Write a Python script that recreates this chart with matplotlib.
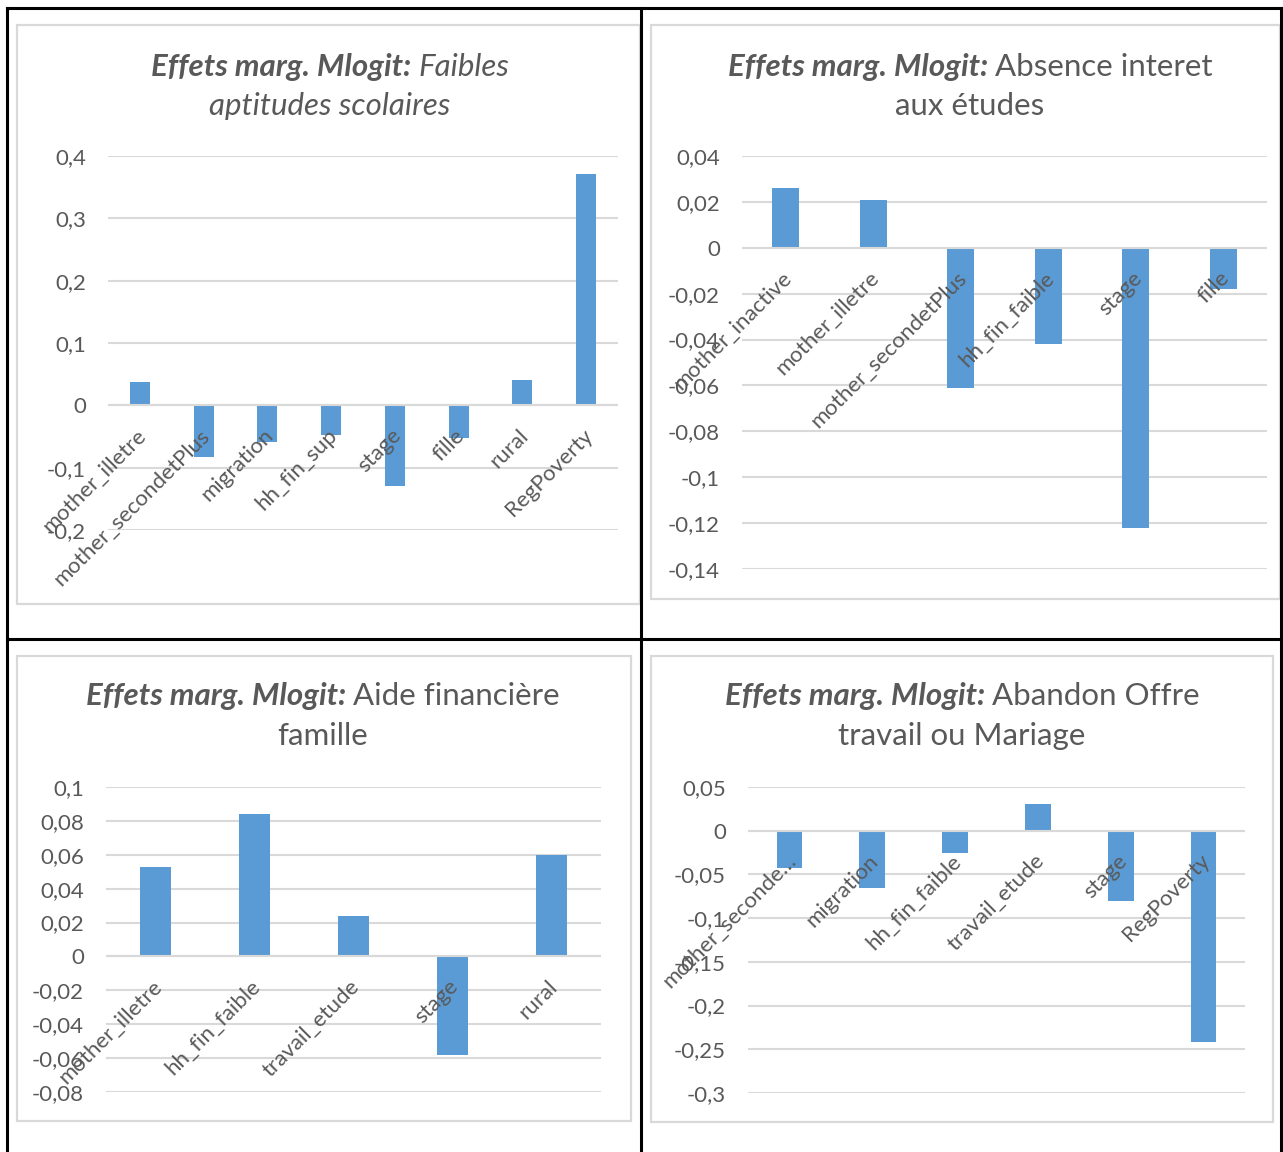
import matplotlib
matplotlib.use("Agg")
import matplotlib.pyplot as plt
import matplotlib.transforms as mtransforms
from matplotlib.lines import Line2D
from matplotlib.patches import Rectangle

plt.rcParams['font.family'] = ['Lato', 'DejaVu Sans']

W, H = 1283, 1152
BLUE = '#5B9BD5'
GRID = '#D9D9D9'
TXT = '#595959'

# chart 1 : Faibles aptitudes scolaires
cats1 = ['mother_illetre', 'mother_secondetPlus', 'migration', 'hh_fin_sup',
         'stage', 'fille', 'rural', 'RegPoverty']
vals1 = [0.038, -0.083, -0.059, -0.048, -0.129, -0.052, 0.041, 0.371]
ticks1 = [0.4, 0.3, 0.2, 0.1, 0, -0.1, -0.2]

# chart 2 : Absence interet aux etudes
cats2 = ['mother_inactive', 'mother_illetre', 'mother_secondetPlus',
         'hh_fin_faible', 'stage', 'fille']
vals2 = [0.026, 0.021, -0.061, -0.042, -0.122, -0.018]
ticks2 = [0.04, 0.02, 0, -0.02, -0.04, -0.06, -0.08, -0.1, -0.12, -0.14]

# chart 3 : Aide financiere famille
cats3 = ['mother_illetre', 'hh_fin_faible', 'travail_etude', 'stage', 'rural']
vals3 = [0.053, 0.084, 0.024, -0.058, 0.060]
ticks3 = [0.1, 0.08, 0.06, 0.04, 0.02, 0, -0.02, -0.04, -0.06, -0.08]

# chart 4 : Abandon Offre travail ou Mariage
cats4 = ['mother_seconde\u2026', 'migration', 'hh_fin_faible', 'travail_etude',
         'stage', 'RegPoverty']
vals4 = [-0.043, -0.065, -0.025, 0.030, -0.080, -0.242]
ticks4 = [0.05, 0, -0.05, -0.1, -0.15, -0.2, -0.25, -0.3]

fig = plt.figure(figsize=(W / 100, H / 100), dpi=100)


def box(l, t, r, b):
    return [l / W, 1 - b / H, (r - l) / W, (b - t) / H]


def fmt(v):
    s = ('%.2f' % v).rstrip('0').rstrip('.')
    if s in ('-0', ''):
        s = '0'
    return s.replace('.', ',')


def frame(l, t, r, b):
    fig.patches.append(Rectangle((l / W, 1 - b / H), (r - l) / W, (b - t) / H,
                                 transform=fig.transFigure, fill=False,
                                 edgecolor=GRID, lw=1.6))


def title(cx, y1, y2, bold, rest1, rest2, italic):
    r = fig.canvas.get_renderer()
    st = 'italic' if italic else 'normal'
    t1 = fig.text(0, 1 - y1 / H, bold + ' ', fontsize=22.5, fontweight='bold',
                  fontstyle='italic', color=TXT, va='center', ha='left')
    t2 = fig.text(0, 1 - y1 / H, rest1, fontsize=22.5, fontstyle=st,
                  color=TXT, va='center', ha='left')
    w1 = t1.get_window_extent(r).width
    w2 = t2.get_window_extent(r).width
    x0 = cx - (w1 + w2) / 2
    t1.set_x(x0 / W)
    t2.set_x((x0 + w1) / W)
    fig.text(cx / W, 1 - y2 / H, rest2, fontsize=22.5, fontstyle=st,
             color=TXT, va='center', ha='center')


def chart(pos, cats, vals, ticks):
    ax = fig.add_axes(box(*pos))
    x = list(range(len(cats)))
    ax.bar(x, vals, width=0.31, color=BLUE, zorder=2)
    ax.set_xlim(-0.5, len(cats) - 0.5)
    ax.set_ylim(min(ticks), max(ticks))
    ax.set_yticks(ticks)
    ax.set_yticklabels([fmt(v) for v in ticks])
    ax.yaxis.grid(True, color=GRID, lw=1.5, zorder=0)
    ax.axhline(0, color=GRID, lw=1.5, zorder=3)
    ax.tick_params(axis='y', length=0, pad=16, labelsize=16, labelcolor=TXT)
    ax.set_xticks([])
    for s in ax.spines.values():
        s.set_visible(False)
    ax.patch.set_alpha(0)
    off = mtransforms.offset_copy(ax.transData, fig=fig, x=3, y=-27, units='dots')
    for i, c in enumerate(cats):
        ax.text(i, 0, c, transform=off, rotation=45, rotation_mode='anchor',
                ha='right', va='center', fontsize=16, color=TXT, zorder=4,
                clip_on=False)
    return ax


frame(17, 25, 640, 604)
frame(651, 25, 1280, 599)
frame(17, 656, 631, 1121)
frame(651, 656, 1273, 1122)

chart((108, 156, 618, 530), cats1, vals1, ticks1)
chart((742, 156, 1267, 569), cats2, vals2, ticks2)
chart((106, 787, 601, 1092), cats3, vals3, ticks3)
chart((748, 787, 1245, 1093), cats4, vals4, ticks4)

title(330, 67, 106, 'Effets marg. Mlogit:', 'Faibles', 'aptitudes scolaires', True)
title(970, 67, 106, 'Effets marg. Mlogit:', 'Absence interet', 'aux études', False)
title(323, 696, 736, 'Effets marg. Mlogit:', 'Aide financière', 'famille', False)
title(962, 696, 736, 'Effets marg. Mlogit:', 'Abandon Offre', 'travail ou Mariage', False)

# table borders
for xs, ys in [((7, 1281), (8, 8)), ((7, 1281), (639, 639)),
               ((7, 7), (8, 1152)), ((641, 641), (8, 1152)),
               ((1281, 1281), (8, 1152))]:
    fig.lines.append(Line2D([v / W for v in xs], [1 - v / H for v in ys],
                            transform=fig.transFigure, color='black', lw=2.2))

fig.savefig('out.png', dpi=100)
